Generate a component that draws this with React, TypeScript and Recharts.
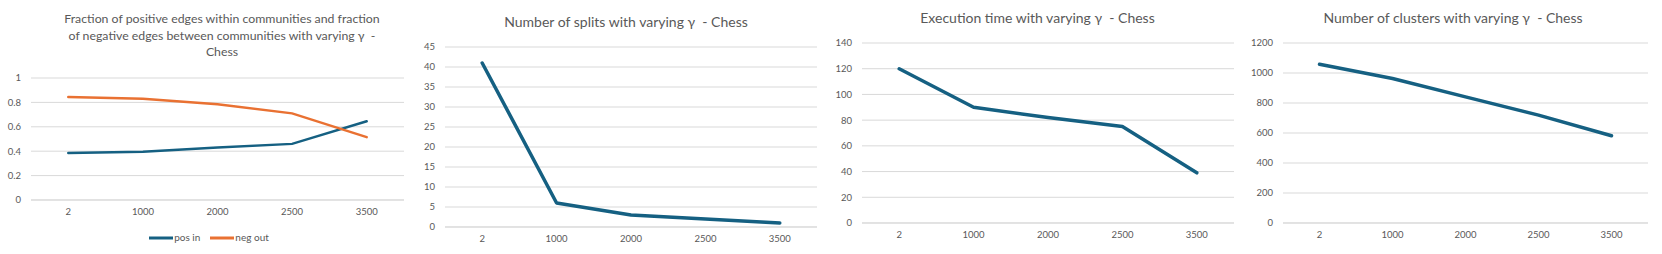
import { LineChart, Line, XAxis, YAxis, CartesianGrid, Legend } from 'recharts';

// gamma values on the x axis (shared by all four panels)
const gammas = ['2', '1000', '2000', '2500', '3500'];

// panel 1: fractions
const posIn = [0.385, 0.395, 0.43, 0.46, 0.645];
const negOut = [0.845, 0.83, 0.785, 0.71, 0.515];
const fractionTicks = [0, 0.2, 0.4, 0.6, 0.8, 1];

// panel 2: splits
const splits = [41, 6, 3, 2, 1];
const splitTicks = [0, 5, 10, 15, 20, 25, 30, 35, 40, 45];

// panel 3: execution time
const execTime = [120, 90, 82, 75, 39];
const timeTicks = [0, 20, 40, 60, 80, 100, 120, 140];

// panel 4: clusters
const clusters = [1058, 963, 841, 719, 582];
const clusterTicks = [0, 200, 400, 600, 800, 1000, 1200];

const BLUE = '#156082';
const ORANGE = '#E97132';
const GRID = '#d9d9d9';
const TEXT = '#595959';
const FONT = 'Lato, sans-serif';

const fractionData = gammas.map((g, i) => ({ gamma: g, posIn: posIn[i], negOut: negOut[i] }));
const splitData = gammas.map((g, i) => ({ gamma: g, value: splits[i] }));
const timeData = gammas.map((g, i) => ({ gamma: g, value: execTime[i] }));
const clusterData = gammas.map((g, i) => ({ gamma: g, value: clusters[i] }));

const tick = { fill: TEXT, fontSize: 9.5, fontFamily: FONT };

function Title({ lines, top, width, size = 14 }: { lines: string[]; top: number; width: number; size?: number }) {
  return (
    <div
      style={{
        position: 'absolute',
        top,
        left: 0,
        width,
        textAlign: 'center',
        fontFamily: FONT,
        fontSize: size,
        lineHeight: '16.5px',
        color: TEXT,
        whiteSpace: 'pre',
      }}
    >
      {lines.map((l, i) => (
        <div key={i}>{l}</div>
      ))}
    </div>
  );
}

function Axes({ ticks, yWidth }: { ticks: number[]; yWidth: number }) {
  return (
    <>
      <CartesianGrid vertical={false} stroke={GRID} />
      <XAxis
        dataKey="gamma"
        scale="band"
        height={20}
        axisLine={{ stroke: GRID }}
        tickLine={false}
        tick={tick}
        interval={0}
      />
      <YAxis
        width={yWidth}
        domain={[0, ticks[ticks.length - 1]]}
        ticks={ticks}
        interval={0}
        axisLine={false}
        tickLine={false}
        tick={tick}
        tickMargin={4}
      />
    </>
  );
}

export default function App() {
  return (
    <div style={{ position: 'absolute', left: 0, top: 0, width: 1662, height: 254, background: '#fff', display: 'flex' }}>
      {/* panel 1 */}
      <div style={{ position: 'relative', width: 412, height: 254 }}>
        <Title
          top={11}
          width={444}
          size={12.3}
          lines={[
            'Fraction of positive edges within communities and fraction',
            'of negative edges between communities with varying γ  -',
            'Chess',
          ]}
        />
        <LineChart width={412} height={254} data={fractionData} margin={{ top: 78, right: 8, bottom: 34, left: 5 }}>
          {Axes({ ticks: fractionTicks, yWidth: 26 })}
          <Line dataKey="posIn" name="pos in" stroke={BLUE} strokeWidth={2.5} dot={false} isAnimationActive={false} strokeLinecap="round" />
          <Line dataKey="negOut" name="neg out" stroke={ORANGE} strokeWidth={2.5} dot={false} isAnimationActive={false} strokeLinecap="round" />
          <Legend
            verticalAlign="middle"
            align="center"
            iconType="plainline"
            iconSize={24}
            itemSorter={(item: any) => (item.dataKey === 'posIn' ? 0 : 1)}
            wrapperStyle={{ top: 226, left: 8, width: 412, fontFamily: FONT, fontSize: 10 }}
            formatter={(v: string) => <span style={{ color: TEXT, marginLeft: -3 }}>{v}</span>}
          />
        </LineChart>
      </div>

      {/* panel 2 */}
      <div style={{ position: 'relative', width: 418, height: 254 }}>
        <Title top={14} width={428} lines={['Number of splits with varying γ  - Chess']} />
        <LineChart width={418} height={254} data={splitData} margin={{ top: 47, right: 13, bottom: 7, left: 7 }}>
          {Axes({ ticks: splitTicks, yWidth: 26 })}
          <Line dataKey="value" stroke={BLUE} strokeWidth={3.5} dot={false} isAnimationActive={false} strokeLinecap="round" strokeLinejoin="round" />
        </LineChart>
      </div>

      {/* panel 3 */}
      <div style={{ position: 'relative', width: 415, height: 254 }}>
        <Title top={10} width={415} lines={['Execution time with varying γ  - Chess']} />
        <LineChart width={415} height={254} data={timeData} margin={{ top: 43, right: 11, bottom: 11, left: 4 }}>
          {Axes({ ticks: timeTicks, yWidth: 28 })}
          <Line dataKey="value" stroke={BLUE} strokeWidth={3.5} dot={false} isAnimationActive={false} strokeLinecap="round" strokeLinejoin="round" />
        </LineChart>
      </div>

      {/* panel 4 */}
      <div style={{ position: 'relative', width: 417, height: 254 }}>
        <Title top={10} width={416} lines={['Number of clusters with varying γ  - Chess']} />
        <LineChart width={417} height={254} data={clusterData} margin={{ top: 43, right: 14, bottom: 11, left: 4 }}>
          {Axes({ ticks: clusterTicks, yWidth: 34 })}
          <Line dataKey="value" stroke={BLUE} strokeWidth={3.5} dot={false} isAnimationActive={false} strokeLinecap="round" strokeLinejoin="round" />
        </LineChart>
      </div>
    </div>
  );
}
